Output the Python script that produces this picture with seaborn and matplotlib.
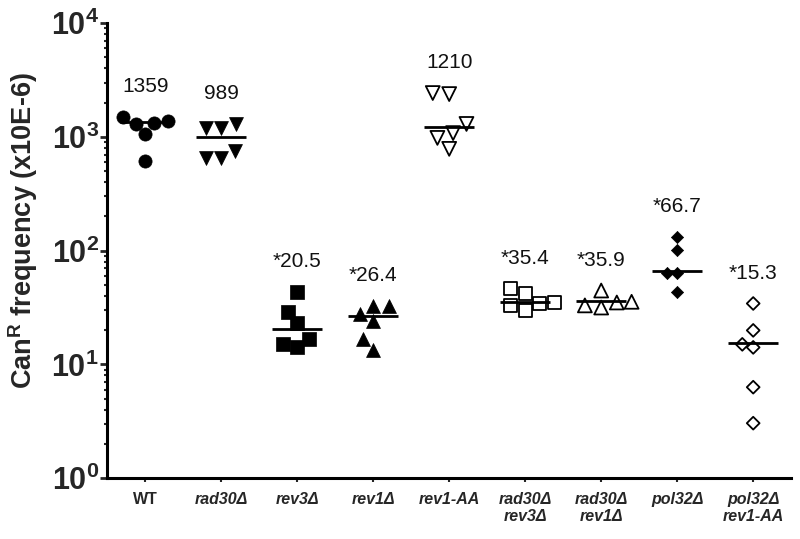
import matplotlib
matplotlib.use("Agg")
import matplotlib.pyplot as plt
import seaborn as sns
import numpy as np
from matplotlib.ticker import LogLocator, NullFormatter, FixedLocator, FixedFormatter

# ---------------- data ----------------
categories = ["WT", "rad30Δ", "rev3Δ", "rev1Δ", "rev1-AA",
              "rad30Δ\nrev3Δ", "rad30Δ\nrev1Δ", "pol32Δ", "pol32Δ\nrev1-AA"]
wt = [1330, 1310, 1060, 1380, 1500, 620]
rad30 = [1200, 1200, 1310, 750, 655, 655]
rev3 = [43.7, 28.6, 22.9, 16.6, 14.1, 15.0]
rev1 = [32.9, 32.9, 28.0, 24.3, 16.6, 13.3]
rev1_aa = [2380, 2430, 1300, 1080, 980, 785]
rad30_rev3 = [42.0, 46.4, 33.0, 29.8, 34.3, 35.0]
rad30_rev1 = [44.6, 35.0, 31.6, 33.0, 35.5]
pol32 = [133, 102, 64, 63, 43.7]
pol32_rev1_aa = [34.3, 19.9, 14.1, 15.0, 6.3, 3.04]
medians = [1359, 989, 20.5, 26.4, 1210, 35.4, 35.9, 66.7, 15.3]
median_labels = ["1359", "989", "*20.5", "*26.4", "1210", "*35.4", "*35.9", "*66.7", "*15.3"]
y_ticks = [1, 10, 100, 1000, 10000]

groups = [wt, rad30, rev3, rev1, rev1_aa, rad30_rev3, rad30_rev1, pol32, pol32_rev1_aa]

# styles: (marker, filled, size)
styles = [("o", True, 9.5), ("v", True, 10), ("s", True, 9.5), ("^", True, 10),
          ("v", False, 10), ("s", False, 9.5), ("^", False, 10),
          ("D", True, 6.2), ("D", False, 6.5)]

# ---------------- plot ----------------
sns.set_style("white")
plt.rcParams["font.family"] = ["Liberation Sans", "DejaVu Sans"]
plt.rcParams["mathtext.fontset"] = "custom"
plt.rcParams["mathtext.rm"] = "Liberation Sans"
plt.rcParams["mathtext.bf"] = "Liberation Sans:bold"
plt.rcParams["mathtext.it"] = "Liberation Sans:italic"

fig = plt.figure(figsize=(8, 5.39), dpi=100)
ax = fig.add_axes([0.134, 0.113, 0.855, 0.844])

for i, (vals, (mk, filled, sz)) in enumerate(zip(groups, styles)):
    kw = dict(edgecolor="black", linewidth=1.3 if not filled else 0.5, color="black")
    if not filled:
        kw["facecolors"] = "none"
    sns.swarmplot(x=[categories[i]] * len(vals), y=vals, order=categories,
                  marker=mk, size=sz, ax=ax, log_scale=True, zorder=3, **kw)

xs = np.arange(len(categories))
ax.hlines(medians, xs - 0.33, xs + 0.33, color="black", linewidth=2.0, zorder=2)

for i, (vals, lab) in enumerate(zip(groups, median_labels)):
    ax.text(i, max(vals) * 1.85, lab, ha="center", va="center", fontsize=15,
            color="#111111")

ax.set_yscale("log")
ax.set_ylim(1, 10000)
ax.set_xlim(-0.5, 8.5)

ax.yaxis.set_major_locator(FixedLocator(y_ticks))
ax.yaxis.set_major_formatter(FixedFormatter(
    [r"$\mathbf{10^{%d}}$" % int(round(np.log10(t))) for t in y_ticks]))
ax.yaxis.set_minor_locator(LogLocator(base=10, subs=np.arange(2, 10), numticks=20))
ax.yaxis.set_minor_formatter(NullFormatter())

ax.tick_params(axis="y", which="major", direction="out", length=5, width=2,
               labelsize=22, pad=1, left=True)
ax.tick_params(axis="y", which="minor", direction="out", length=2.5, width=1.5,
               left=True)
ax.tick_params(axis="x", which="major", direction="out", length=3, width=1.5,
               labelsize=11.5, pad=7, bottom=True)

ax.set_xticks(xs)
ax.set_xticklabels(categories)
for i, t in enumerate(ax.get_xticklabels()):
    t.set_fontweight("bold")
    t.set_fontstyle("normal" if categories[i] == "WT" else "italic")
    t.set_verticalalignment("top")

ax.set_xlabel("")
ax.set_ylabel(r"Can$^{\mathbf{R}}$ frequency (x10E-6)", fontsize=19.5,
              fontweight="bold")
ax.yaxis.set_label_coords(-0.098, 0.545)

for s in ["top", "right"]:
    ax.spines[s].set_visible(False)
for s in ["left", "bottom"]:
    ax.spines[s].set_linewidth(2.2)
    ax.spines[s].set_color("black")

fig.savefig("out.png", dpi=100)
